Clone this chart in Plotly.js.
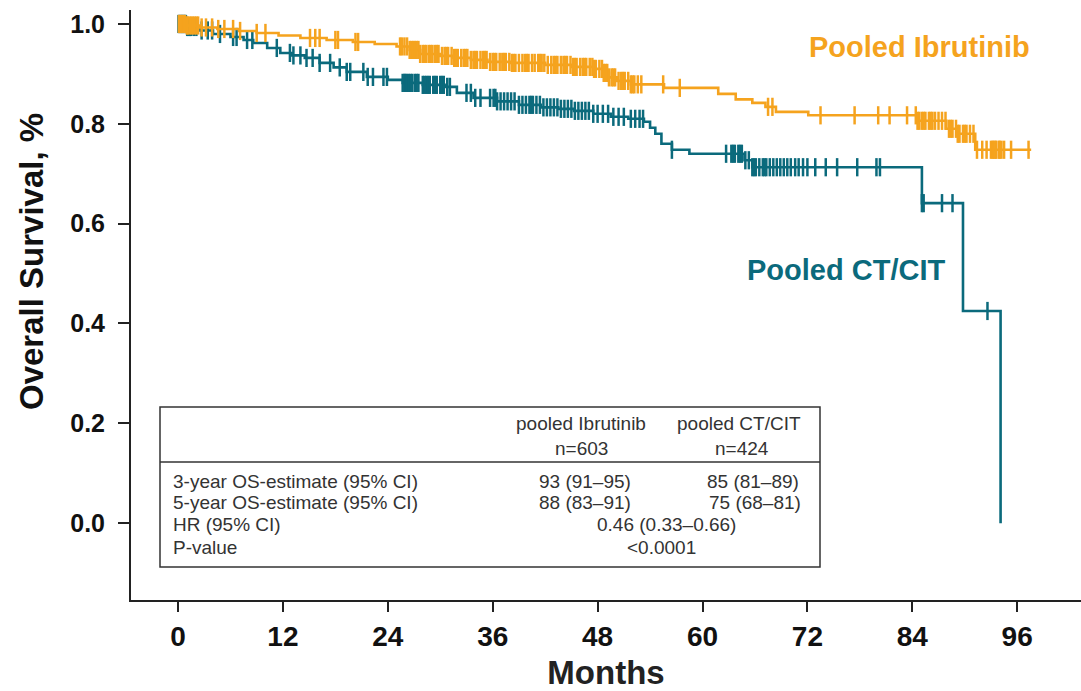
<!DOCTYPE html>
<html>
<head>
<meta charset="utf-8">
<script src="https://cdn.plot.ly/plotly-3.0.1.min.js"></script>
<style>
  html, body { margin: 0; padding: 0; background: #ffffff; }
  #chart { width: 1081px; height: 691px; }
</style>
</head>
<body>
<div id="chart"></div>
<script>
// Kaplan-Meier overall survival, pooled Ibrutinib vs pooled CT/CIT

// Ibrutinib arm: step times (months) and survival after each step
const ibruTimes = [0, 1, 2.5, 4.5, 7, 9, 11.5, 14, 17, 20, 22.5, 25, 26.5, 27.7, 30, 31.5, 33.5, 35.4, 38, 42, 45, 47.5, 48.6, 49.3, 50.2, 51.8, 55.6, 61.8, 63.8, 65.7, 67.2, 68.4, 72.1, 84.6, 87.9, 89.1, 91.2, 97.6];
const ibruSurv  = [1.0, 0.997, 0.993, 0.99, 0.986, 0.982, 0.977, 0.972, 0.968, 0.964, 0.960, 0.955, 0.948, 0.940, 0.936, 0.932, 0.928, 0.924, 0.922, 0.918, 0.914, 0.910, 0.902, 0.893, 0.886, 0.879, 0.872, 0.860, 0.849, 0.842, 0.834, 0.824, 0.817, 0.806, 0.790, 0.780, 0.748, 0.748];
// Ibrutinib arm: censoring times (months)
const ibruCensor = [0.1, 0.2, 0.35, 0.5, 0.65, 0.8, 1.0, 1.1, 1.3, 1.5, 1.7, 1.9, 2.1, 2.3, 2.7, 3.2, 3.9, 4.6, 5.3, 6.3, 7.1, 9.0, 10.0, 15.1, 15.7, 16.2, 18.0, 18.3, 20.3, 20.6,
  25.4, 25.6, 25.9, 26.2, 26.5, 26.7, 26.9, 27.1, 27.3, 27.5, 27.7, 28.0, 28.2, 28.4, 28.7, 28.9, 29.1, 29.4, 29.6, 29.8, 30.2, 30.5, 30.7, 30.9, 31.3, 31.6, 31.8, 32.0, 32.4, 32.7, 32.9, 33.1, 33.5, 33.8,
  34.0, 34.2, 34.6, 34.9, 35.1, 35.3, 35.7, 36.0, 36.2, 36.4, 36.8, 37.1, 37.3, 37.5, 37.9, 38.2, 38.4, 38.6, 39.0, 39.4, 39.7, 39.9, 40.1, 40.5, 40.8, 41.2, 41.4, 41.6, 41.9, 42.3, 42.7,
  43.0, 43.2, 43.4, 43.8, 44.1, 44.3, 44.5, 44.9, 45.2, 45.4, 45.6, 46.0, 46.3, 46.5, 46.7, 47.1, 47.4, 47.6, 47.8, 48.2, 48.5, 48.7, 48.9, 49.1, 49.3, 49.6, 49.8, 50.0, 50.4, 50.7, 50.9, 51.1, 51.5,
  51.8, 52.0, 52.2, 52.6, 53.0, 55.5, 57.4, 67.5, 68.0, 73.5, 77.4, 80.1, 81.4, 83.4, 84.4, 84.6, 84.8, 85.1, 85.3, 85.5, 85.9, 86.1, 86.3, 86.6, 87.0, 87.4, 87.8, 88.2,
  88.4, 88.6, 89.0, 89.2, 89.4, 89.8, 90.0, 90.2, 90.6, 91.0, 91.4, 92.0, 92.5, 93.0, 93.2, 93.3, 93.5, 93.6, 93.9, 94.0, 94.2, 94.5, 95.3, 97.3];

// CT/CIT arm: step times (months) and survival after each step
const citTimes = [0, 1, 2.5, 4, 6, 7.5, 8.6, 10.2, 11.7, 13, 14.5, 16.2, 17.8, 19.3, 21.6, 24, 25.7, 28, 30.5, 31.9, 33.8, 36.5, 39, 41.5, 43.5, 45.3, 47.5, 49.5, 51.5, 53.3, 54, 54.6, 55.3, 56.5, 58.5, 64.8, 65.7, 85.1, 89.8, 94.1];
const citSurv  = [1.0, 0.994, 0.987, 0.98, 0.974, 0.968, 0.962, 0.952, 0.942, 0.937, 0.932, 0.922, 0.913, 0.904, 0.894, 0.888, 0.882, 0.878, 0.874, 0.862, 0.852, 0.845, 0.838, 0.833, 0.830, 0.826, 0.82, 0.814, 0.81, 0.804, 0.792, 0.780, 0.760, 0.748, 0.740, 0.727, 0.713, 0.641, 0.425, 0.0];
// CT/CIT arm: censoring times (months)
const citCensor = [0.05, 0.15, 0.3, 0.4, 0.5, 0.6, 0.7, 0.8, 0.9, 1.05, 1.2, 1.35, 1.5, 1.8, 2.1, 2.7, 3.4, 3.9, 4.8, 6.3, 6.7, 7.9, 8.5, 11.3, 12.8, 13.2, 14.0, 14.7, 15.4, 16.2,
  17.4, 18.5, 19.3, 19.7, 21.2, 21.7, 22.3, 23.5, 23.9, 25.7, 25.9, 26.0, 26.2, 26.4, 26.6, 26.8, 27.1, 27.3, 27.5, 28.0, 28.2, 28.4, 28.6, 28.8, 29.2, 29.4, 29.6, 30.0, 30.2, 30.4, 30.8, 31.1,
  33.0, 33.5, 34.0, 34.6, 35.7, 36.1, 36.3, 36.5, 36.9, 37.3, 37.7, 38.1, 38.5, 39.0, 39.4, 39.8, 40.2, 40.4, 40.6, 41.0, 41.4, 41.8, 42.2, 42.6, 43.0, 43.4,
  43.8, 44.2, 44.6, 45.0, 45.4, 45.8, 46.2, 46.6, 47.0, 47.5, 48.0, 48.6, 49.2, 49.8, 50.4, 51.0, 51.8, 52.3, 52.8, 53.2, 56.5, 62.7, 63.3, 63.5, 63.7,
  64.1, 64.3, 64.5, 64.9, 65.3, 65.7, 65.9, 66.1, 66.5, 66.9, 67.1, 67.3, 67.7, 68.1, 68.5, 68.9, 69.3, 69.7, 70.1, 70.6, 71.0, 71.5, 72.0, 72.9, 74.1, 75.4, 77.7,
  79.9, 80.3, 85.1, 85.3, 87.4, 88.6, 92.6];

const xTicks = [0, 12, 24, 36, 48, 60, 72, 84, 96];
const yTicks = [0.0, 0.2, 0.4, 0.6, 0.8, 1.0];

// summary table contents
const tableHeader = [["pooled Ibrutinib", "n=603"], ["pooled CT/CIT", "n=424"]];
const tableRowLabels = ["3-year OS-estimate (95% CI)", "5-year OS-estimate (95% CI)", "HR (95% CI)", "P-value"];
const ibruEstimates = ["93 (91\u201395)", "88 (83\u201391)"];
const citEstimates = ["85 (81\u201389)", "75 (68\u201381)"];
const hrText = "0.46 (0.33\u20130.66)";
const pText = "<0.0001";

const ORANGE = "#F5A31E";
const TEAL = "#0B6A7C";
const FONT = "Liberation Sans, Arial, Helvetica, sans-serif";

// survival value of a step curve at time t
function survAt(times, surv, t) {
  let v = surv[0];
  for (let i = 0; i < times.length; i++) if (times[i] <= t) v = surv[i];
  return v;
}

function kmTraces(times, surv, censor, color) {
  return [
    { x: times, y: surv, type: "scatter", mode: "lines",
      line: { shape: "hv", color: color, width: 2.6 }, hoverinfo: "skip", showlegend: false },
    { x: censor, y: censor.map(t => survAt(times, surv, t)), type: "scatter", mode: "markers",
      marker: { symbol: "line-ns", size: 13, line: { color: color, width: 2.5 } },
      hoverinfo: "skip", showlegend: false }
  ];
}

const data = [].concat(
  kmTraces(citTimes, citSurv, citCensor, TEAL),
  kmTraces(ibruTimes, ibruSurv, ibruCensor, ORANGE)
);

// plot area: left 131, right 1081, top 10, bottom 600 (pixels)
const L = 131, R = 1081, T = 10, B = 600;
const px = x => (x - L) / (R - L);
const py = y => (B - y) / (B - T);

const tFont = { family: FONT, size: 19, color: "#333333" };
const annotations = [
  { text: "Overall Survival, %", x: px(31), y: py(262), textangle: -90,
    font: { family: FONT, size: 33, color: "#111111", weight: "bold" } },
  { text: "Pooled Ibrutinib", x: px(919), y: py(47), font: { family: FONT, size: 29, color: ORANGE, weight: "bold" } },
  { text: "Pooled CT/CIT", x: px(846), y: py(270), font: { family: FONT, size: 29, color: TEAL, weight: "bold" } },
  { text: tableHeader[0][0], x: px(581), y: py(423), font: tFont },
  { text: tableHeader[0][1], x: px(581), y: py(448), font: tFont },
  { text: tableHeader[1][0], x: px(739), y: py(423), font: tFont },
  { text: tableHeader[1][1], x: px(742), y: py(448), font: tFont },
  { text: ibruEstimates[0], x: px(585), y: py(481), font: tFont },
  { text: ibruEstimates[1], x: px(585), y: py(502), font: tFont },
  { text: citEstimates[0], x: px(801), y: py(481), xanchor: "right", font: tFont },
  { text: citEstimates[1], x: px(803), y: py(502), xanchor: "right", font: tFont },
  { text: hrText, x: px(666), y: py(524), font: tFont },
  { text: pText, x: px(661), y: py(547), font: tFont }
].map(a => Object.assign({ xref: "paper", yref: "paper", showarrow: false, xanchor: "center", yanchor: "middle" }, a));

[481, 502, 524, 547].forEach((y, i) => annotations.push({
  text: tableRowLabels[i], x: px(171), y: py(y), xref: "paper", yref: "paper",
  showarrow: false, xanchor: "left", yanchor: "middle", font: tFont
}));

const shapes = [
  { type: "rect", xref: "paper", yref: "paper", x0: px(160), x1: px(820), y0: py(567), y1: py(407),
    line: { color: "#333333", width: 1.5 }, fillcolor: "rgba(0,0,0,0)" },
  { type: "line", xref: "paper", yref: "paper", x0: px(160), x1: px(820), y0: py(462), y1: py(462),
    line: { color: "#333333", width: 1.5 } }
];

const layout = {
  width: 1081, height: 691,
  margin: { l: L, r: 1081 - R, t: T, b: 691 - B, pad: 0 },
  paper_bgcolor: "#ffffff", plot_bgcolor: "#ffffff",
  showlegend: false,
  font: { family: FONT, color: "#111111" },
  xaxis: {
    range: [-5.38, 103.3], tickvals: xTicks, ticktext: xTicks.map(String),
    showgrid: false, zeroline: false, showline: true, linecolor: "#222222", linewidth: 2,
    ticks: "outside", ticklen: 10, tickwidth: 2, tickcolor: "#222222",
    tickfont: { family: FONT, size: 28, color: "#111111", weight: "bold" },
    title: { text: "Months", font: { family: FONT, size: 33, color: "#222222", weight: "bold" }, standoff: 11 },
    automargin: false
  },
  yaxis: {
    range: [-0.154, 1.028], tickvals: yTicks, tickformat: ".1f",
    showgrid: false, zeroline: false, showline: true, linecolor: "#222222", linewidth: 2,
    ticks: "outside", ticklen: 11, tickwidth: 2, tickcolor: "#222222",
    ticklabelstandoff: 8,
    tickfont: { family: FONT, size: 25, color: "#111111", weight: "bold" },
    automargin: false
  },
  annotations: annotations,
  shapes: shapes
};

Plotly.newPlot("chart", data, layout, { staticPlot: true, displayModeBar: false });
</script>
</body>
</html>
